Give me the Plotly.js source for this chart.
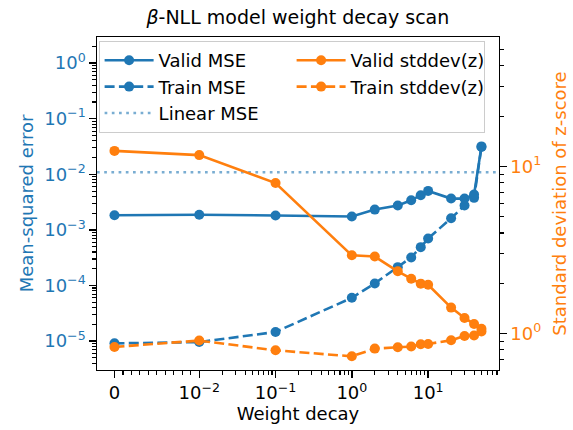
<!DOCTYPE html>
<html>
<head>
<meta charset="utf-8">
<script src="https://cdn.plot.ly/plotly-3.0.1.min.js"></script>
<style>html,body{margin:0;padding:0;background:#fff;}#chart{width:573px;height:430px;}</style>
</head>
<body>
<div id="chart"></div>
<script>
// ---- data ----
const weightDecay = [0, 0.01, 0.1, 1, 2, 4, 6, 8, 10, 20, 30, 40, 50];
const validMSE = [1.84e-3, 1.87e-3, 1.82e-3, 1.74e-3, 2.32e-3, 2.74e-3, 3.41e-3, 4.2e-3, 5.03e-3, 3.66e-3, 3.66e-3, 4.32e-3, 0.0318];
const trainMSE = [9.1e-6, 9.6e-6, 1.46e-5, 6.0e-5, 1.09e-4, 2.14e-4, 3.2e-4, 4.9e-4, 7.0e-4, 1.62e-3, 2.74e-3, 3.77e-3, 0.031];
const validStd = [12.4, 11.7, 7.96, 2.94, 2.89, 2.36, 2.13, 1.99, 1.96, 1.43, 1.24, 1.14, 1.07];
const trainStd = [0.832, 0.908, 0.794, 0.731, 0.813, 0.828, 0.836, 0.863, 0.867, 0.912, 0.968, 0.973, 1.03];
const linearMSE = 0.01086;
const xTickValues = [0, 0.01, 0.1, 1, 10];
const xTickLabels = ['0', '10<sup>\u22122</sup>', '10<sup>\u22121</sup>', '10<sup>0</sup>', '10<sup>1</sup>'];
const y1TickValues = [1e-5, 1e-4, 1e-3, 1e-2, 1e-1, 1];
const y1TickLabels = ['10<sup>\u22125</sup>', '10<sup>\u22124</sup>', '10<sup>\u22123</sup>', '10<sup>\u22122</sup>', '10<sup>\u22121</sup>', '10<sup>0</sup>'];
const y2TickValues = [1, 10];
const y2TickLabels = ['10<sup>0</sup>', '10<sup>1</sup>'];

// ---- symlog transform (linthresh 0.01, linscale 1) ----
const LINTHRESH = 0.01;
const LINSCALE = 1 / (1 - 0.1);
function symlog(v) {
  const a = Math.abs(v);
  const s = v < 0 ? -1 : 1;
  if (a <= LINTHRESH) return s * a / LINTHRESH * LINSCALE;
  return s * (LINSCALE + Math.log10(a / LINTHRESH));
}
const X_RANGE = [-0.229, 5.04];

// minor ticks
const xMinor = [];
for (let i = 1; i < 10; i++) xMinor.push(symlog(i * 0.001));
for (let k = -2; k <= 1; k++) for (let m = 2; m <= 9; m++) xMinor.push(symlog(m * Math.pow(10, k)));
const y1Minor = [];
for (let k = -6; k <= 0; k++) for (let m = 2; m <= 9; m++) y1Minor.push(m * Math.pow(10, k));
const y2Minor = [];
for (let k = -1; k <= 1; k++) for (let m = 2; m <= 9; m++) y2Minor.push(m * Math.pow(10, k));

const BLUE = '#1f77b4', ORANGE = '#ff7f0e';
const xs = weightDecay.map(symlog);
const FONT = 'DejaVu Sans, sans-serif';
const FS = 18;
const LW = 2.6, MS = 10;
const DASH = '10px,4.3px', DOT = '2.7px,4.5px';

const traces = [
  {x: xs, y: trainMSE, name: 'Train MSE', mode: 'lines+markers', yaxis: 'y', legendrank: 3,
   line: {color: BLUE, width: LW, dash: DASH}, marker: {color: BLUE, size: MS}},
  {x: xs, y: validMSE, name: 'Valid MSE', mode: 'lines+markers', yaxis: 'y', legendrank: 1,
   line: {color: BLUE, width: LW}, marker: {color: BLUE, size: MS}},
  {x: X_RANGE, y: [linearMSE, linearMSE], name: 'Linear MSE', mode: 'lines', yaxis: 'y', legendrank: 5,
   line: {color: BLUE, width: LW, dash: DOT}, opacity: 0.6},
  {x: xs, y: validStd, name: 'Valid stddev(z)', mode: 'lines+markers', yaxis: 'y2', legendrank: 2,
   line: {color: ORANGE, width: LW}, marker: {color: ORANGE, size: MS}},
  {x: xs, y: trainStd, name: 'Train stddev(z)', mode: 'lines+markers', yaxis: 'y2', legendrank: 4,
   line: {color: ORANGE, width: LW, dash: DASH}, marker: {color: ORANGE, size: MS}}
];

const TICK = {ticks: 'outside', ticklen: 6.3, tickwidth: 1.4, tickcolor: '#000'};
const MINOR = {ticks: 'outside', ticklen: 3.6, tickwidth: 1.1, tickcolor: '#000', showgrid: false, tickmode: 'array'};

const layout = {
  width: 573, height: 430,
  margin: {l: 96.5, r: 74, t: 37, b: 59.5},
  paper_bgcolor: '#fff', plot_bgcolor: '#fff',
  font: {family: FONT, size: FS, color: '#000'},
  showlegend: true,
  title: {text: '<i>\u03b2</i>-NLL model weight decay scan', font: {family: FONT, size: 19, color: '#000'},
          x: 0.5198, xref: 'container', xanchor: 'center', y: 1 - 17 / 430, yref: 'container', yanchor: 'middle'},
  xaxis: Object.assign({
    range: X_RANGE, type: 'linear', showgrid: false, zeroline: false,
    showline: true, linecolor: '#000', linewidth: 1.4, mirror: true,
    tickmode: 'array', tickvals: xTickValues.map(symlog), ticktext: xTickLabels,
    tickfont: {family: FONT, size: FS, color: '#000'},
    minor: Object.assign({tickvals: xMinor}, MINOR),
    title: {text: 'Weight decay', font: {family: FONT, size: FS, color: '#000'}, standoff: 5}
  }, TICK),
  yaxis: Object.assign({
    type: 'log', range: [-5.52, 0.47], showgrid: false, zeroline: false,
    showline: true, linecolor: '#000', linewidth: 1.4,
    tickmode: 'array', tickvals: y1TickValues, ticktext: y1TickLabels,
    tickfont: {family: FONT, size: FS, color: BLUE},
    minor: Object.assign({tickvals: y1Minor}, MINOR),
    title: {text: 'Mean-squared error', font: {family: FONT, size: FS, color: BLUE}, standoff: 6}
  }, TICK),
  yaxis2: Object.assign({
    type: 'log', range: [-0.218, 1.775], overlaying: 'y', side: 'right', showgrid: false, zeroline: false,
    showline: true, linecolor: '#000', linewidth: 1.4,
    tickmode: 'array', tickvals: y2TickValues, ticktext: y2TickLabels,
    tickfont: {family: FONT, size: FS, color: ORANGE},
    minor: Object.assign({tickvals: y2Minor}, MINOR),
    title: {text: 'Standard deviation of z-score', font: {family: FONT, size: FS, color: ORANGE}, standoff: 13}
  }, TICK),
  legend: {
    orientation: 'h', x: 0.004, y: 0.988, xanchor: 'left', yanchor: 'top',
    bgcolor: 'rgba(255,255,255,0.8)', bordercolor: '#cccccc', borderwidth: 1,
    font: {family: FONT, size: FS, color: '#000'},
    entrywidth: 128, entrywidthmode: 'pixels', itemwidth: 49, traceorder: 'normal'
  }
};

Plotly.newPlot('chart', traces, layout, {displayModeBar: false, staticPlot: true});
</script>
</body>
</html>
